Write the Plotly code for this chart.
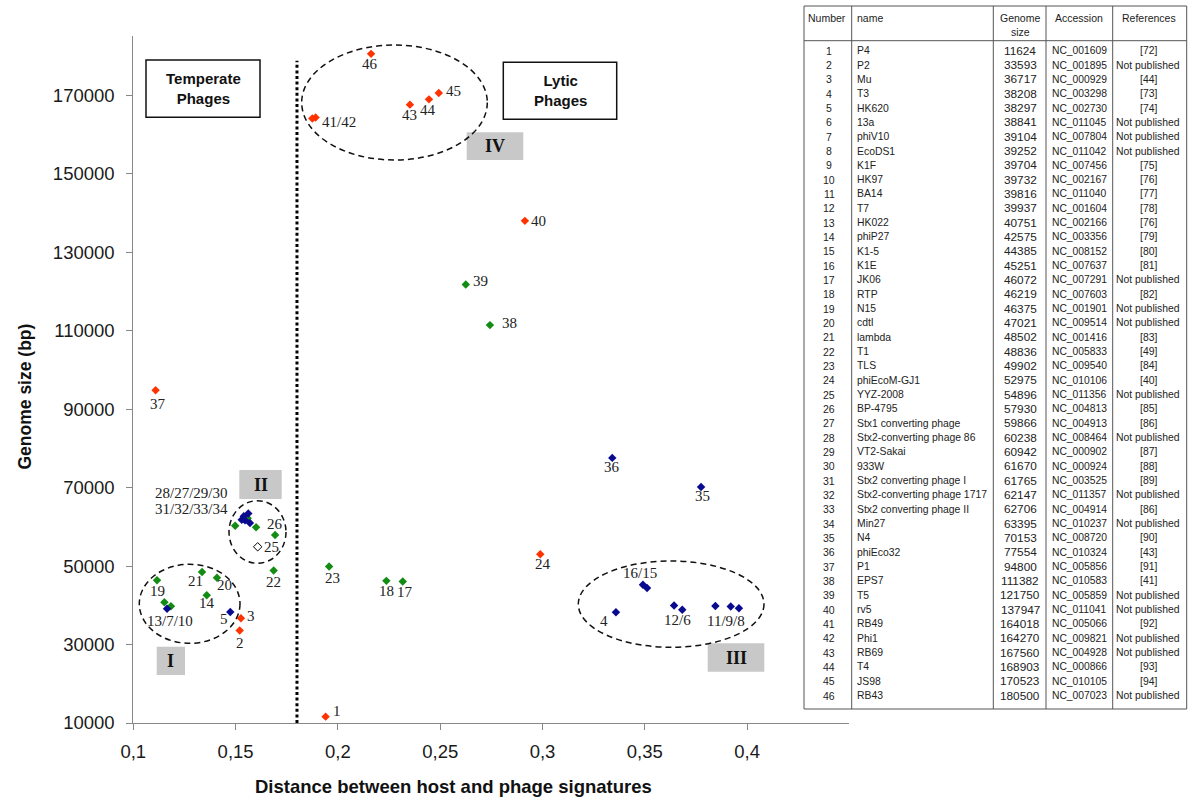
import plotly.graph_objects as go

W, H = 1200, 811

# ---------------- data ----------------
NUMBERS = list(range(1, 47))
NAMES = ["P4", "P2", "Mu", "T3", "HK620", "13a", "phiV10", "EcoDS1", "K1F", "HK97",
         "BA14", "T7", "HK022", "phiP27", "K1-5", "K1E", "JK06", "RTP", "N15", "cdtI",
         "lambda", "T1", "TLS", "phiEcoM-GJ1", "YYZ-2008", "BP-4795", "Stx1 converting phage",
         "Stx2-converting phage 86", "VT2-Sakai", "933W", "Stx2 converting phage I",
         "Stx2-converting phage 1717", "Stx2 converting phage II", "Min27", "N4", "phiEco32",
         "P1", "EPS7", "T5", "rv5", "RB49", "Phi1", "RB69", "T4", "JS98", "RB43"]
GENOME_SIZE = [11624, 33593, 36717, 38208, 38297, 38841, 39104, 39252, 39704, 39732,
               39816, 39937, 40751, 42575, 44385, 45251, 46072, 46219, 46375, 47021,
               48502, 48836, 49902, 52975, 54896, 57930, 59866, 60238, 60942, 61670,
               61765, 62147, 62706, 63395, 70153, 77554, 94800, 111382, 121750, 137947,
               164018, 164270, 167560, 168903, 170523, 180500]
ACCESSION = ["NC_001609", "NC_001895", "NC_000929", "NC_003298", "NC_002730", "NC_011045",
             "NC_007804", "NC_011042", "NC_007456", "NC_002167", "NC_011040", "NC_001604",
             "NC_002166", "NC_003356", "NC_008152", "NC_007637", "NC_007291", "NC_007603",
             "NC_001901", "NC_009514", "NC_001416", "NC_005833", "NC_009540", "NC_010106",
             "NC_011356", "NC_004813", "NC_004913", "NC_008464", "NC_000902", "NC_000924",
             "NC_003525", "NC_011357", "NC_004914", "NC_010237", "NC_008720", "NC_010324",
             "NC_005856", "NC_010583", "NC_005859", "NC_011041", "NC_005066", "NC_009821",
             "NC_004928", "NC_000866", "NC_010105", "NC_007023"]
REFERENCES = ["[72]", "Not published", "[44]", "[73]", "[74]", "Not published", "Not published",
              "Not published", "[75]", "[76]", "[77]", "[78]", "[76]", "[79]", "[80]", "[81]",
              "Not published", "[82]", "Not published", "Not published", "[83]", "[49]", "[84]",
              "[40]", "Not published", "[85]", "[86]", "Not published", "[87]", "[88]", "[89]",
              "Not published", "[86]", "Not published", "[90]", "[43]", "[91]", "[41]",
              "Not published", "Not published", "[92]", "Not published", "Not published",
              "[93]", "[94]", "Not published"]
DISTANCE = [0.1940, 0.1520, 0.1526, 0.3359, 0.1474, 0.3683, 0.1165, 0.3960, 0.3920, 0.1184,
            0.3845, 0.3643, 0.1152, 0.1359, 0.3511, 0.3491, 0.2317, 0.2237, 0.1116, 0.1409,
            0.1336, 0.1686, 0.1957, 0.2989, 0.1608, 0.1693, 0.1600, 0.1498, 0.1570, 0.1546,
            0.1530, 0.1559, 0.1540, 0.1562, 0.3775, 0.3341, 0.1109, 0.2743, 0.2625, 0.2914,
            0.1875, 0.1891, 0.2352, 0.2445, 0.2493, 0.2162]
GROUP = "R R R B B B B B B G B B G G B B G G G G G G G R W G G G B B B G B B B B R G G R R R R R R R".split()

X_TICK_VALUES = [0.1, 0.15, 0.2, 0.25, 0.3, 0.35, 0.4]
X_TICK_LABELS = ["0,1", "0,15", "0,2", "0,25", "0,3", "0,35", "0,4"]
Y_TICK_VALUES = [10000, 30000, 50000, 70000, 90000, 110000, 130000, 150000, 170000]
Y_TICK_LABELS = [str(v) for v in Y_TICK_VALUES]

# point labels: (text, anchor point number, dx px, dy px (down))
POINT_LABELS = [
    ("46", 46, -1, 10.6), ("41/42", 42, 23.6, 4.6), ("43", 43, 0, 10), ("44", 44, -1, 10.3),
    ("45", 45, 15, -1.7), ("40", 40, 14, 0), ("39", 39, 14.3, -3.6), ("38", 38, 20, -1.7),
    ("37", 37, 2.6, 14), ("19", 19, 0, 10.7), ("13/7/10", 7, 3, 12), ("21", 21, -6.3, 8.7),
    ("20", 20, 7.3, 7.7), ("14", 14, 0, 8), ("5", 5, -6.3, 7), ("3", 3, 9.7, -2.3),
    ("2", 2, 0, 12.6), ("1", 1, 11, -5.6), ("23", 23, 3.3, 11.7), ("18", 18, 0, 10.6),
    ("17", 17, 2.3, 10.6), ("22", 22, 0, 11), ("25", 25, 14, 0), ("26", 26, 0, -11),
    ("28/27/29/30", 31, -50, -27.1), ("31/32/33/34", 31, -50, -10.5),
    ("36", 36, 0, 8.7), ("35", 35, 1, 9.3), ("24", 24, 2.4, 9.3), ("16/15", 16, -3, -11.4),
    ("4", 4, -12, 8.4), ("12/6", 12, 3.7, 14.4), ("11/9/8", 9, -5, 14.4),
]

COLORS = {"R": "#ff3300", "G": "#128c12", "B": "#0a0a8f", "W": "#ffffff"}

# ---------------- figure ----------------
fig = go.Figure()
for g in ["G", "B", "R", "W"]:
    idx = [i for i, gg in enumerate(GROUP) if gg == g]
    fig.add_trace(go.Scatter(
        x=[DISTANCE[i] for i in idx], y=[GENOME_SIZE[i] for i in idx],
        mode="markers", showlegend=False, hoverinfo="skip",
        marker=dict(symbol="diamond", size=6.5, color=COLORS[g],
                    line=dict(width=1 if g == "W" else 0, color="#000000")),
    ))

LABEL_FONT = dict(family="Liberation Serif, Times New Roman, serif", size=15, color="#222222")
annotations = []
for text, num, dx, dy in POINT_LABELS:
    annotations.append(dict(x=DISTANCE[num - 1], y=GENOME_SIZE[num - 1], xref="x", yref="y",
                            text=text, showarrow=False, xshift=dx, yshift=-dy,
                            xanchor="center", yanchor="middle", font=LABEL_FONT))

def fx(px):
    return 0.1 + (px - 133.3) / 2046.0

def fy(py):
    return 10000 + (723 - py) * 254.8

shapes = []
# dashed ellipses
for (x0, x1, y0, y1) in [(139.3, 240, 643.3, 564.3), (229, 286, 563.3, 500.7),
                         (578.3, 764, 647.3, 561), (301.7, 487.3, 160, 45)]:
    shapes.append(dict(type="circle", xref="x", yref="y", x0=fx(x0), x1=fx(x1), y0=fy(y0), y1=fy(y1),
                       line=dict(color="#111111", width=1.5, dash="6px,4px")))
# grey group boxes
GREY = [("I", 156.7, 185, 675, 646.7), ("II", 239.3, 281.7, 499, 470),
        ("III", 707.7, 764.3, 671.7, 643.3), ("IV", 466.7, 523.3, 160, 132.3)]
for t, x0, x1, y0, y1 in GREY:
    shapes.append(dict(type="rect", xref="x", yref="y", x0=fx(x0), x1=fx(x1), y0=fy(y0), y1=fy(y1),
                       fillcolor="#c8c8c8", line=dict(width=0), layer="below"))
    annotations.append(dict(x=(fx(x0) + fx(x1)) / 2, y=(fy(y0) + fy(y1)) / 2, xref="x", yref="y",
                            text="<b>%s</b>" % t, showarrow=False, xanchor="center", yanchor="middle",
                            font=dict(family="Liberation Serif, Times New Roman, serif", size=18, color="#111111")))
# Temperate / Lytic boxes
for t, x0, x1, y0, y1 in [("Temperate<br>Phages", 146, 260, 117.3, 60),
                          ("Lytic<br>Phages", 503.3, 616.7, 119.3, 62.3)]:
    shapes.append(dict(type="rect", xref="x", yref="y", x0=fx(x0), x1=fx(x1), y0=fy(y0), y1=fy(y1),
                       fillcolor="#ffffff", line=dict(color="#111111", width=1.5)))
    annotations.append(dict(x=(fx(x0) + fx(x1)) / 2, y=(fy(y0) + fy(y1)) / 2, xref="x", yref="y",
                            text="<b>%s</b>" % t, showarrow=False, xanchor="center", yanchor="middle",
                            font=dict(family="Liberation Sans, Arial, sans-serif", size=15, color="#111111")))
# dotted separator
shapes.append(dict(type="line", xref="x", yref="y", x0=0.18, x1=0.18, y0=10000, y1=fy(60.7),
                   line=dict(color="#000000", width=3, dash="3px,2.6px")))

# axis titles
annotations.append(dict(x=453.7 / W, y=1 - 786.7 / H, xref="paper", yref="paper", showarrow=False,
                        xanchor="center", yanchor="middle",
                        text="<b>Distance between host and phage signatures</b>",
                        font=dict(family="Liberation Sans, Arial, sans-serif", size=18.5, color="#111111")))
annotations.append(dict(x=24 / W, y=1 - 396.5 / H, xref="paper", yref="paper", showarrow=False,
                        xanchor="center", yanchor="middle",
                        textangle=-90, text="<b>Genome size (bp)</b>",
                        font=dict(family="Liberation Sans, Arial, sans-serif", size=17.5, color="#111111")))

# ---------------- table ----------------
def px_x(p):
    return p / W

def px_y(p):
    return 1 - p / H

T_LEFT, T_RIGHT, T_TOP, T_BOTTOM, T_HEAD = 804, 1186.7, 6, 709, 40.7
COL_LINES = [851.7, 993.3, 1046, 1112.7]
LINE_COL = "#555555"
shapes.append(dict(type="rect", xref="paper", yref="paper", x0=px_x(T_LEFT), x1=px_x(T_RIGHT),
                   y0=px_y(T_BOTTOM), y1=px_y(T_TOP), line=dict(color=LINE_COL, width=1)))
for c in COL_LINES:
    shapes.append(dict(type="line", xref="paper", yref="paper", x0=px_x(c), x1=px_x(c),
                       y0=px_y(T_BOTTOM), y1=px_y(T_TOP), line=dict(color=LINE_COL, width=1)))
shapes.append(dict(type="line", xref="paper", yref="paper", x0=px_x(T_LEFT), x1=px_x(T_RIGHT),
                   y0=px_y(T_HEAD), y1=px_y(T_HEAD), line=dict(color=LINE_COL, width=1)))

def tfont(size):
    return dict(family="Liberation Sans, Arial, sans-serif", size=size, color="#222222")

def cell(text, x, y, anchor="center", size=10.5):
    annotations.append(dict(x=px_x(x), y=px_y(y), xref="paper", yref="paper", text=text,
                            showarrow=False, xanchor=anchor, yanchor="middle", font=tfont(size)))

cell("Number", 827, 18)
cell("name", 855, 18, "left")
cell("Genome", 1020, 18)
cell("size", 1020, 32.3)
cell("Accession", 1079, 18)
cell("References", 1149, 18)

ROW0, ROWH = 50.7, 14.33
for i in range(len(NUMBERS)):
    y = ROW0 + i * ROWH
    cell(str(NUMBERS[i]), 829, y, size=10.5)
    cell(NAMES[i], 855, y, "left", size=10.4)
    cell(str(GENOME_SIZE[i]), 1020, y, size=11.8)
    cell(ACCESSION[i], 1079, y, size=10.3)
    cell(REFERENCES[i], 1148, y, size=10.4)

AX_COL = "#888888"
TICK_FONT = dict(family="Liberation Sans, Arial, sans-serif", size=18.5, color="#1a1a1a")
fig.update_layout(
    width=W, height=H, margin=dict(l=0, r=0, t=0, b=0, pad=0, autoexpand=False),
    paper_bgcolor="white", plot_bgcolor="white",
    showlegend=False,
    xaxis=dict(domain=[133.3 / W, 849.4 / W], range=[0.1, 0.45], automargin=False,
               tickvals=X_TICK_VALUES, ticktext=X_TICK_LABELS,
               showgrid=False, zeroline=False, showline=True, linecolor=AX_COL, linewidth=1,
               ticks="outside", ticklen=6, tickcolor=AX_COL, tickfont=TICK_FONT,
               ticklabelstandoff=6),
    yaxis=dict(domain=[88 / H, (H - 36.2) / H], range=[10000, 185000], automargin=False,
               tickvals=Y_TICK_VALUES, ticktext=Y_TICK_LABELS,
               showgrid=False, zeroline=False, showline=True, linecolor=AX_COL, linewidth=1,
               ticks="outside", ticklen=6, tickcolor=AX_COL, tickfont=TICK_FONT,
               ticklabelstandoff=8),
    shapes=shapes, annotations=annotations,
)

fig.write_html("out.html", config={"displayModeBar": False},
               post_script="document.body.style.margin='0';document.body.style.overflow='hidden';")
